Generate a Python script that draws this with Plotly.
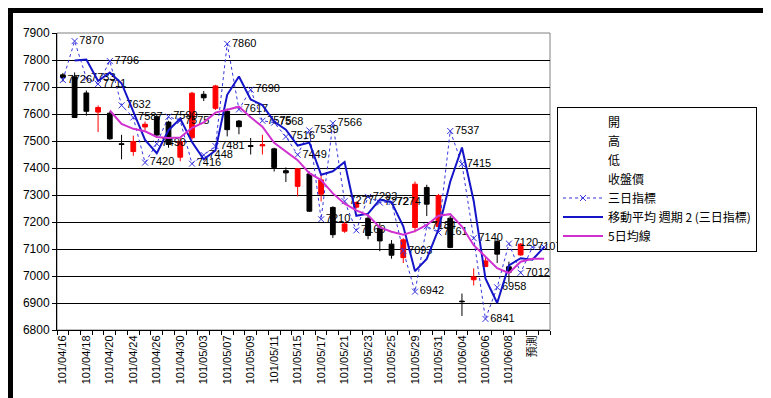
import plotly.graph_objects as go

dates = ["101/04/16", "101/04/17", "101/04/18", "101/04/19", "101/04/20", "101/04/23",
         "101/04/24", "101/04/25", "101/04/26", "101/04/27", "101/04/30", "101/05/02",
         "101/05/03", "101/05/04", "101/05/07", "101/05/08", "101/05/09", "101/05/10",
         "101/05/11", "101/05/14", "101/05/15", "101/05/16", "101/05/17", "101/05/18",
         "101/05/21", "101/05/22", "101/05/23", "101/05/24", "101/05/25", "101/05/28",
         "101/05/29", "101/05/30", "101/05/31", "101/06/01", "101/06/04", "101/06/05",
         "101/06/06", "101/06/07", "101/06/08", "101/06/11", "預測", ""]

opens = [7745, 7738, 7678, 7607, 7603, 7490, 7461, 7552, 7590, 7570, 7440, 7512, 7673, 7621,
         7610, 7574, 7483, 7482, 7471, 7390, 7332, 7378, 7303, 7254, 7166, 7255, 7214, 7178,
         7118, 7068, 7180, 7328, 7183, 7214, 6907, 6986, 7035, 7128, 7034, 7078]
highs = [7752, 7754, 7687, 7632, 7608, 7523, 7520, 7572, 7600, 7575, 7512, 7682, 7685, 7708,
         7620, 7578, 7511, 7523, 7475, 7402, 7400, 7387, 7375, 7258, 7200, 7276, 7228, 7196,
         7133, 7140, 7350, 7338, 7304, 7222, 6935, 7028, 7070, 7140, 7053, 7122]
lows = [7720, 7585, 7594, 7533, 7505, 7432, 7445, 7540, 7515, 7475, 7425, 7505, 7648, 7615,
        7517, 7525, 7450, 7450, 7387, 7348, 7295, 7238, 7276, 7141, 7160, 7250, 7136, 7092,
        7064, 7048, 7162, 7222, 7175, 7103, 6852, 6965, 7033, 7048, 6975, 7075]
closes = [7735, 7587, 7610, 7624, 7508, 7487, 7498, 7562, 7522, 7487, 7498, 7677, 7660, 7704,
          7542, 7553, 7480, 7486, 7402, 7382, 7397, 7240, 7356, 7153, 7193, 7272, 7150, 7130,
          7077, 7134, 7340, 7266, 7298, 7106, 6905, 6997, 7056, 7081, 7014, 7118]

# 三日指標
index3 = [7726, 7870, 7733, 7711, 7796, 7632, 7587, 7420, 7490, 7590, 7575, 7416, 7448, 7481,
          7860, 7617, 7690, 7575, 7568, 7516, 7449, 7539, 7210, 7566, 7277, 7169, 7293, 7272,
          7274, 7093, 6942, 7184, 7161, 7537, 7415, 7140, 6841, 6958, 7120, 7012, 7107, 7107]
index3_labels = [str(v) for v in index3[:-1]] + [""]

# 移動平均 週期 2 (三日指標)
ma2 = [None, 7798, 7802, 7722, 7754, 7714, 7610, 7504, 7455, 7540, 7583, 7496, 7432, 7465,
       7671, 7739, 7654, 7633, 7572, 7542, 7483, 7494, 7375, 7388, 7422, 7223, 7231, 7283,
       7273, 7184, 7018, 7063, 7173, 7349, 7476, 7278, 6991, 6900, 7039, 7066, 7060, 7107]

# 5日均線
ma5 = [None, None, None, None, 7613, 7563, 7545, 7536, 7515, 7511, 7513, 7549, 7569, 7605,
       7616, 7627, 7588, 7553, 7493, 7461, 7429, 7381, 7355, 7306, 7268, 7243, 7225, 7180,
       7164, 7153, 7166, 7189, 7223, 7229, 7183, 7114, 7072, 7029, 7011, 7053, 7064, 7064]

y_ticks = [6800, 6900, 7000, 7100, 7200, 7300, 7400, 7500, 7600, 7700, 7800, 7900]

xi = list(range(len(dates)))
n_c = len(opens)

fig = go.Figure()

for nm in ["開", "高", "低", "收盤價"]:
    fig.add_trace(go.Scatter(x=[None], y=[None], mode="markers", name=nm,
                             marker=dict(size=1, color="rgba(0,0,0,0)",
                                         line=dict(width=0, color="rgba(0,0,0,0)")),
                             hoverinfo="skip"))

fig.add_trace(go.Candlestick(
    x=xi[:n_c], open=opens, high=highs, low=lows, close=closes,
    increasing=dict(line=dict(color="#FF0000", width=1), fillcolor="#FF0000"),
    decreasing=dict(line=dict(color="#000000", width=1), fillcolor="#000000"),
    whiskerwidth=0, showlegend=False, name="K"))

fig.add_trace(go.Scatter(
    x=xi, y=index3, name="三日指標", mode="lines+markers+text",
    line=dict(color="#3333DD", width=1, dash="dot"),
    marker=dict(symbol="x-thin-open", size=6, line=dict(color="#3333DD", width=1), color="#3333DD"),
    text=index3_labels, textposition="middle right",
    textfont=dict(family="Liberation Sans, Noto Sans CJK TC", size=11, color="#000000"),
    cliponaxis=False))

fig.add_trace(go.Scatter(
    x=xi, y=ma2, name="移動平均 週期 2 (三日指標)", mode="lines",
    line=dict(color="#1414C8", width=2)))

fig.add_trace(go.Scatter(
    x=xi, y=ma5, name="5日均線", mode="lines",
    line=dict(color="#D030D0", width=2)))

L, R, T, B = 49, 229, 25, 76
W, H = 771, 398
pw, ph = W - L - R, H - T - B

def px_x(p):
    return (p - L) / pw

def px_y(p):
    return (H - B - p) / ph

fig.update_layout(
    width=W, height=H,
    margin=dict(l=L, r=R, t=T, b=B, pad=0),
    paper_bgcolor="#000000",
    plot_bgcolor="#FFFFFF",
    boxgap=0.42,
    font=dict(family="Liberation Sans, Noto Sans CJK TC", size=12, color="#000000"),
    showlegend=True,
    legend=dict(
        x=px_x(549), y=px_y(171), xanchor="left", yanchor="middle",
        bgcolor="#FFFFFF", bordercolor="#000000", borderwidth=1,
        font=dict(family="Noto Sans CJK TC", size=12, color="#000000"),
        itemwidth=40, traceorder="normal"),
    shapes=[
        dict(type="rect", xref="paper", yref="paper",
             x0=px_x(5), x1=px_x(765), y0=px_y(392), y1=px_y(5),
             fillcolor="#FFFFFF", line=dict(width=0), layer="below"),
        dict(type="rect", xref="paper", yref="paper", x0=0, x1=1, y0=0, y1=1,
             line=dict(color="#808080", width=1), layer="below"),
    ],
    xaxis=dict(
        range=[-0.5, len(dates) - 0.5],
        tickmode="array", tickvals=xi[::2], ticktext=dates[::2],
        tickangle=-90, ticks="", ticklen=0,
        tickfont=dict(family="Liberation Sans, Noto Sans CJK TC", size=11, color="#000000"),
        showgrid=False, zeroline=False,
        showline=True, linecolor="#000000", linewidth=1,
        rangeslider=dict(visible=False),
        minor=dict(tickmode="linear", tick0=-0.5, dtick=1, ticks="outside",
                   ticklen=4, tickcolor="#000000", tickwidth=1, showgrid=False),
    ),
    yaxis=dict(
        range=[6800, 7900], tickmode="array", tickvals=y_ticks, tickformat="d",
        ticks="outside", ticklen=4, tickcolor="#000000",
        tickfont=dict(family="Liberation Sans", size=12, color="#000000"),
        showgrid=True, gridcolor="#000000", gridwidth=1,
        zeroline=False, showline=True, linecolor="#000000", linewidth=1,
    ),
)

fig.write_html("out.html")
